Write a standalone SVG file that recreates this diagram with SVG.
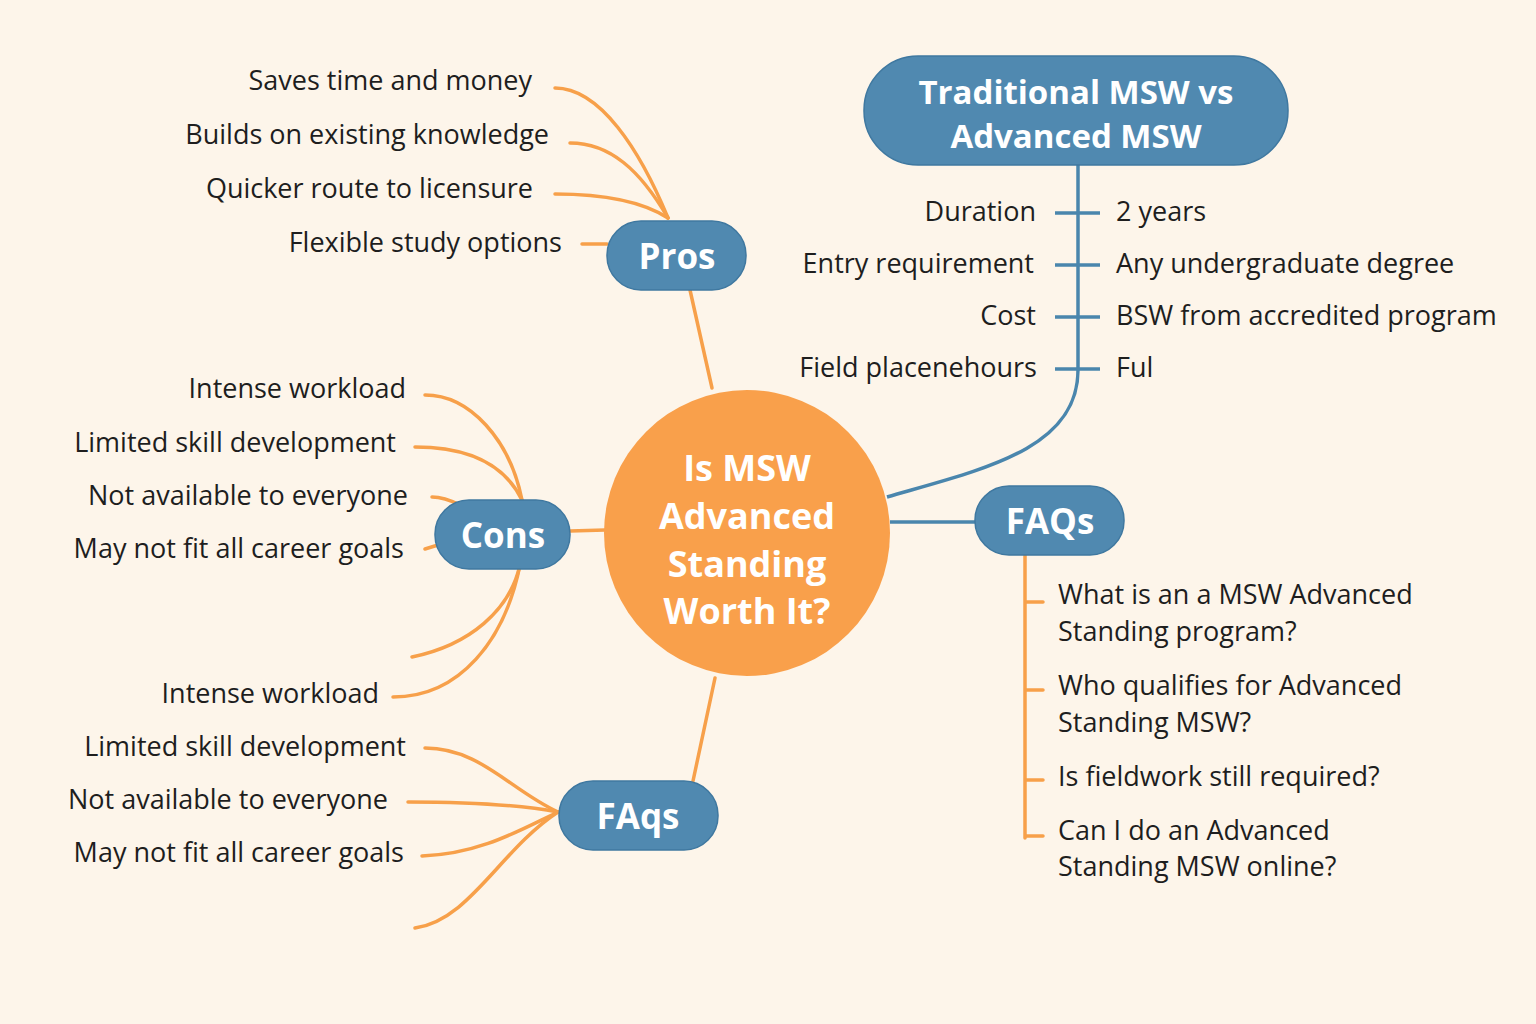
<svg xmlns="http://www.w3.org/2000/svg" width="1536" height="1024" viewBox="0 0 1536 1024">
<style>
.t{font-family:"Open Sans","Liberation Sans",sans-serif;font-size:27px;fill:#1e1e1e}
.r{text-anchor:end}
.w{font-family:"Open Sans","Liberation Sans",sans-serif;font-weight:bold;fill:#fff;text-anchor:middle}
.o{fill:none;stroke:#f7a04a;stroke-width:3.5;stroke-linecap:round}
.b{fill:none;stroke:#4a86ad;stroke-width:3.5}
.bn{fill:#5089b0;stroke:#3f78a0;stroke-width:1.5}
</style>
<rect width="1536" height="1024" fill="#fdf5ea"/>
<g id="connectors">
<path class="o" d="M690 290 L712 388"/>
<path class="o" d="M668 218 C640 150 600 88 555 88"/>
<path class="o" d="M668 218 C640 170 610 143 570 143"/>
<path class="o" d="M668 218 C640 200 600 194 555 194"/>
<path class="o" d="M582 244 L607 244"/>
<path class="o" d="M570 531 L605 530"/>
<path class="o" d="M522 500 C510 440 470 395 425 395"/>
<path class="o" d="M522 500 C505 465 470 447 415 447"/>
<path class="o" d="M460 505 C450 500 440 497 432 497"/>
<path class="o" d="M438 545 L425 549"/>
<path class="o" d="M520 565 C510 610 470 645 412 657"/>
<path class="o" d="M520 565 C505 640 460 697 393 697"/>
<path class="o" d="M693 781 L715 678"/>
<path class="o" d="M558 812 C510 790 480 748 425 748"/>
<path class="o" d="M558 812 C520 805 470 802 408 802"/>
<path class="o" d="M558 812 C520 830 480 854 422 856"/>
<path class="o" d="M558 812 C500 850 470 920 415 928"/>
<path class="b" d="M890 522 L975 522"/>
<path class="o" d="M1025 555 L1025 838 M1025 602 L1043 602 M1025 690 L1043 690 M1025 780 L1043 780 M1025 836 L1043 836"/>
<path class="b" d="M887 497 C980 470 1078 450 1078 370 L1078 165"/>
<path class="b" d="M1055 213 L1100 213 M1055 265 L1100 265 M1055 317 L1100 317 M1055 369 L1100 369"/>
</g>
<g id="center">
<circle cx="747" cy="533" r="143" fill="#f9a04b"/>
<text class="w" x="747" y="481" font-size="36">Is MSW</text>
<text class="w" x="747" y="529" font-size="36">Advanced</text>
<text class="w" x="747" y="577" font-size="36">Standing</text>
<text class="w" x="747" y="624" font-size="36">Worth It?</text>
</g>
<g id="pros"><rect class="bn" x="607" y="221" width="139" height="69" rx="34"/><text class="w" x="677" y="269" font-size="35">Pros</text></g>
<g id="cons"><rect class="bn" x="435" y="500" width="135" height="69" rx="34"/><text class="w" x="503" y="548" font-size="35">Cons</text></g>
<g id="faqs1"><rect class="bn" x="559" y="781" width="159" height="69" rx="34"/><text class="w" x="638" y="829" font-size="35">FAqs</text></g>
<g id="faqs2"><rect class="bn" x="975" y="486" width="149" height="69" rx="34"/><text class="w" x="1050" y="534" font-size="35">FAQs</text></g>
<g id="traditional"><rect class="bn" x="864" y="56" width="424" height="109" rx="54"/>
<text class="w" x="1076" y="104" font-size="33">Traditional MSW vs</text>
<text class="w" x="1076" y="148" font-size="33">Advanced MSW</text></g>
<g id="labels">
<text class="t r" x="532" y="90">Saves time and money</text>
<text class="t r" x="549" y="144">Builds on existing knowledge</text>
<text class="t r" x="533" y="198">Quicker route to licensure</text>
<text class="t r" x="562" y="252">Flexible study options</text>
<text class="t r" x="406" y="398">Intense workload</text>
<text class="t r" x="396" y="452">Limited skill development</text>
<text class="t r" x="408" y="505">Not available to everyone</text>
<text class="t r" x="404" y="558">May not fit all career goals</text>
<text class="t r" x="379" y="703">Intense workload</text>
<text class="t r" x="406" y="756">Limited skill development</text>
<text class="t r" x="388" y="809">Not available to everyone</text>
<text class="t r" x="404" y="862">May not fit all career goals</text>
<text class="t r" x="1036" y="221">Duration</text>
<text class="t r" x="1034" y="273">Entry requirement</text>
<text class="t r" x="1036" y="325">Cost</text>
<text class="t r" x="1037" y="377">Field placenehours</text>
<text class="t" x="1116" y="221">2 years</text>
<text class="t" x="1116" y="273">Any undergraduate degree</text>
<text class="t" x="1116" y="325">BSW from accredited program</text>
<text class="t" x="1116" y="377">Ful</text>
<text class="t" x="1058" y="604">What is an a MSW Advanced</text>
<text class="t" x="1058" y="641">Standing program?</text>
<text class="t" x="1058" y="695">Who qualifies for Advanced</text>
<text class="t" x="1058" y="732">Standing MSW?</text>
<text class="t" x="1058" y="786">Is fieldwork still required?</text>
<text class="t" x="1058" y="840">Can I do an Advanced</text>
<text class="t" x="1058" y="876">Standing MSW online?</text>
</g>
</svg>
